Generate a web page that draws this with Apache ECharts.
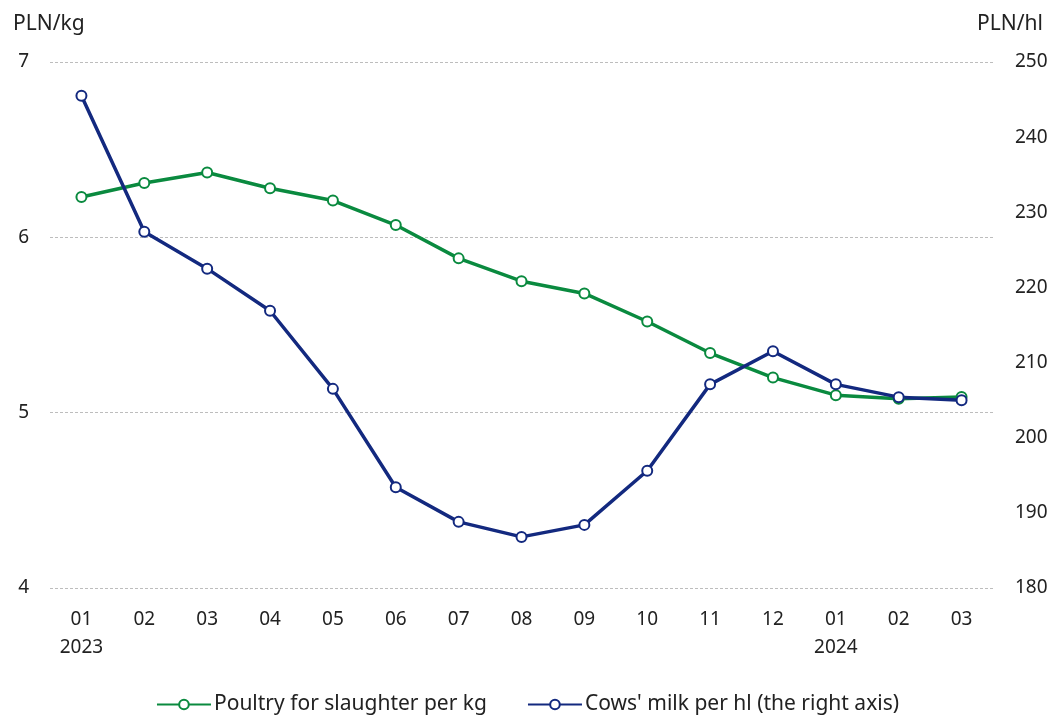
<!DOCTYPE html>
<html>
<head>
<meta charset="UTF-8">
<title>Poultry and milk prices</title>
<style>
  html, body { margin: 0; padding: 0; background: #fff; }
  #main { width: 1055px; height: 717px; }
</style>
</head>
<body>
<div id="main"></div>
<script src="https://cdn.jsdelivr.net/npm/echarts@6/dist/echarts.min.js"></script>
<script>
    var months = ['01\n2023', '02', '03', '04', '05', '06', '07', '08', '09', '10', '11', '12', '01\n2024', '02', '03'];
    var poultry = [6.23, 6.31, 6.37, 6.28, 6.21, 6.07, 5.88, 5.75, 5.68, 5.52, 5.34, 5.20, 5.10, 5.08, 5.09];
    var milk = [245.5, 227.4, 222.5, 216.9, 206.5, 193.4, 188.8, 186.8, 188.4, 195.6, 207.1, 211.5, 207.1, 205.4, 205.0];

    var font = 'Noto Sans';
    var textColor = '#222';
    var green = '#0a8a3f';
    var navy = '#13297f';

    var chart = echarts.init(document.getElementById('main'));

    chart.setOption({
        animation: false,
        textStyle: { fontFamily: font, color: textColor },
        title: [{
            text: 'PLN/kg', left: 8, top: 9,
            textStyle: { fontFamily: font, fontSize: 21, fontWeight: 'normal', color: textColor }
        }, {
            text: 'PLN/hl', right: 7, top: 9,
            textStyle: { fontFamily: font, fontSize: 21, fontWeight: 'normal', color: textColor }
        }],
        grid: { left: 50, right: 62, top: 62, bottom: 129 },
        legend: {
            top: 689,
            left: 'center',
            itemWidth: 54,
            itemHeight: 12,
            itemGap: 40,
            textStyle: { fontFamily: font, fontSize: 21, color: textColor, padding: [0, 0, 0, -2] },
            data: ['Poultry for slaughter per kg', "Cows' milk per hl (the right axis)"]
        },
        xAxis: {
            type: 'category',
            data: months,
            axisLine: { show: false },
            axisTick: { show: false },
            axisLabel: { fontSize: 19, color: textColor, margin: 18, lineHeight: 28 }
        },
        yAxis: [{
            type: 'value',
            min: 4, max: 7, interval: 1,
            axisLine: { show: false },
            axisTick: { show: false },
            axisLabel: { fontSize: 19, color: textColor, margin: 21 },
            splitLine: { lineStyle: { color: '#bdbdbd', type: [3, 2], width: 1 } }
        }, {
            type: 'value',
            min: 180, max: 250, interval: 10,
            axisLine: { show: false },
            axisTick: { show: false },
            axisLabel: { fontSize: 19, color: textColor, margin: 22 },
            splitLine: { show: false }
        }],
        series: [{
            name: 'Poultry for slaughter per kg',
            type: 'line',
            data: poultry,
            yAxisIndex: 0,
            symbol: 'emptyCircle',
            symbolSize: 10,
            color: green,
            lineStyle: { color: green, width: 3.5 },
            itemStyle: { color: green, borderWidth: 3, borderColor: green }
        }, {
            name: "Cows' milk per hl (the right axis)",
            type: 'line',
            data: milk,
            yAxisIndex: 1,
            symbol: 'emptyCircle',
            symbolSize: 10,
            color: navy,
            lineStyle: { color: navy, width: 3.5 },
            itemStyle: { color: navy, borderWidth: 3, borderColor: navy }
        }]
    });
</script>
</body>
</html>
